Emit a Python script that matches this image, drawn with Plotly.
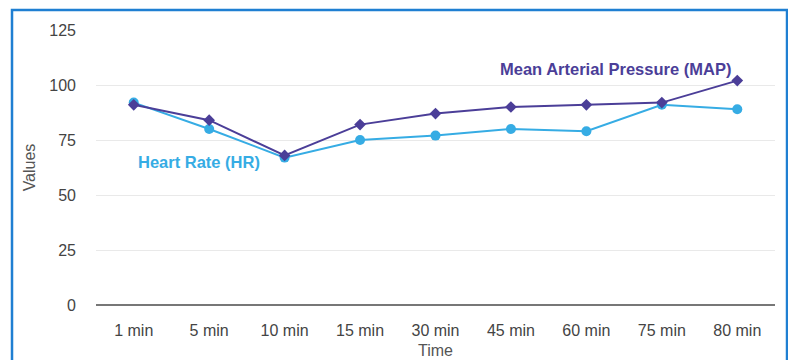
import plotly.graph_objects as go

# Time points and measured values
time_labels = ["1 min", "5 min", "10 min", "15 min", "30 min", "45 min", "60 min", "75 min", "80 min"]
map_values = [91, 84, 68, 82, 87, 90, 91, 92, 102]
hr_values = [92, 80, 67, 75, 77, 80, 79, 91, 89]
y_ticks = [0, 25, 50, 75, 100, 125]

MAP_COLOR = "#4b3e98"
HR_COLOR = "#36ace4"
FONT = "Liberation Sans, Arial, sans-serif"

fig = go.Figure()

fig.add_trace(go.Scatter(
    x=time_labels, y=hr_values, mode="lines+markers", name="Heart Rate (HR)",
    line=dict(color=HR_COLOR, width=2),
    marker=dict(symbol="circle", size=10, color=HR_COLOR),
    showlegend=False,
))
fig.add_trace(go.Scatter(
    x=time_labels, y=map_values, mode="lines+markers", name="Mean Arterial Pressure (MAP)",
    line=dict(color=MAP_COLOR, width=2),
    marker=dict(symbol="diamond", size=9, color=MAP_COLOR),
    showlegend=False,
))

# Inline series labels
fig.add_annotation(x=6.39, y=107.3, xref="x", yref="y", text="<b>Mean Arterial Pressure (MAP)</b>",
                   showarrow=False, font=dict(family=FONT, size=16.5, color=MAP_COLOR))
fig.add_annotation(x=0.865, y=65, xref="x", yref="y", text="<b>Heart Rate (HR)</b>",
                   showarrow=False, font=dict(family=FONT, size=16.5, color=HR_COLOR))

# Blue frame around the chart
fig.add_shape(type="rect", xref="paper", yref="paper",
              x0=-0.1237, x1=1.0177, y0=-0.25, y1=1.0727,
              line=dict(color="#1f7fd2", width=2.5), fillcolor="rgba(0,0,0,0)")

fig.update_layout(
    width=788, height=360,
    margin=dict(l=96, r=13, t=30, b=55, autoexpand=False),
    paper_bgcolor="white", plot_bgcolor="white",
    font=dict(family=FONT, size=16, color="#444"),
    xaxis=dict(
        type="category", range=[-0.5, len(time_labels) - 0.5],
        showgrid=False, showline=False, zeroline=False, automargin=False,
        ticks="", ticklabelstandoff=14,
        tickfont=dict(size=16, color="#444"),
        title=dict(text="Time", font=dict(size=16, color="#555"), standoff=6),
    ),
    yaxis=dict(
        range=[0, 125], tickvals=y_ticks, automargin=False,
        showgrid=True, gridcolor="#e9e9e9", gridwidth=1,
        zeroline=True, zerolinecolor="#777", zerolinewidth=1.5,
        showline=False, ticks="", ticklabelstandoff=19,
        tickfont=dict(size=16, color="#444"),
        title=dict(text="Values", font=dict(size=16, color="#555"), standoff=9),
    ),
)

fig.write_html("out.html")
